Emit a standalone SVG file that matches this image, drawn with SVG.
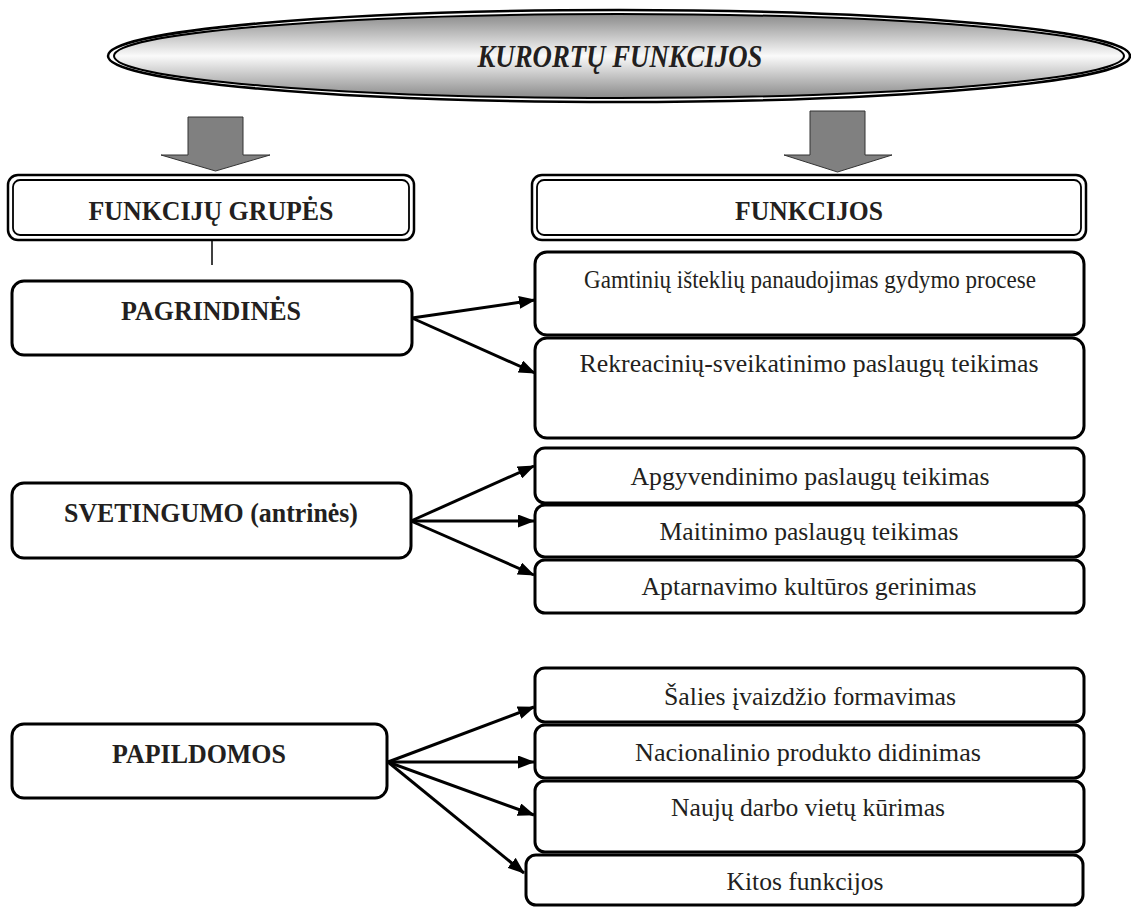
<svg xmlns="http://www.w3.org/2000/svg" width="1131" height="907" viewBox="0 0 1131 907">
<defs>
<linearGradient id="ellG" x1="0" y1="0" x2="0" y2="1">
<stop offset="0" stop-color="#8a8a8a"/>
<stop offset="0.5" stop-color="#fafafa"/>
<stop offset="1" stop-color="#8a8a8a"/>
</linearGradient>
<marker id="ah" markerUnits="userSpaceOnUse" markerWidth="17" markerHeight="13" refX="16" refY="6.5" orient="auto">
<path d="M0,0 L17,6.5 L0,13 z" fill="#000"/>
</marker>
<style>
.hdr-o{fill:#fff;stroke:#000;stroke-width:2.5}
.hdr-i{fill:none;stroke:#000;stroke-width:1.8}
.box{fill:#fff;stroke:#000;stroke-width:3}
.bold{font-family:"Liberation Serif","Times New Roman",serif;font-weight:bold;font-size:27px;fill:#231f20;text-anchor:middle}
.reg{font-family:"Liberation Serif","Times New Roman",serif;font-size:25.5px;fill:#231f20;text-anchor:middle}
.title{font-family:"Liberation Serif","Times New Roman",serif;font-style:italic;font-weight:bold;font-size:32px;fill:#231f20;text-anchor:middle}
.blk{fill:#808080;stroke:#333;stroke-width:1}
.con{fill:none;stroke:#000;stroke-width:3;marker-end:url(#ah)}
</style>
</defs>
<rect width="1131" height="907" fill="#fff"/>

<g id="title">
<ellipse cx="619" cy="56" rx="511" ry="46" fill="#fff" stroke="#000" stroke-width="2.5"/>
<ellipse cx="619" cy="56" rx="505" ry="42" fill="url(#ellG)" stroke="#000" stroke-width="2"/>
<text class="title" x="620" y="67" textLength="285" lengthAdjust="spacingAndGlyphs">KURORTŲ FUNKCIJOS</text>
</g>

<g id="arrow-left">
<path class="blk" d="M188,117 H243 V155 H270 L215.5,171 L161,155 H188 Z"/>
</g>
<g id="arrow-right">
<path class="blk" d="M810,111 H865 V155 H892 L837.5,172 L784,155 H810 Z"/>
</g>

<g id="hdr-groups">
<rect class="hdr-o" x="8" y="175" width="406" height="65" rx="10"/>
<rect class="hdr-i" x="13" y="180" width="396" height="55" rx="7"/>
<text class="bold" x="211" y="220" textLength="245" lengthAdjust="spacingAndGlyphs">FUNKCIJŲ GRUPĖS</text>
</g>
<g id="hdr-functions">
<rect class="hdr-o" x="532" y="175" width="554" height="65" rx="10"/>
<rect class="hdr-i" x="537" y="180" width="544" height="55" rx="7"/>
<text class="bold" x="809" y="220" textLength="148" lengthAdjust="spacingAndGlyphs">FUNKCIJOS</text>
</g>

<g id="pagrindines">
<rect class="box" x="12" y="281" width="400" height="74" rx="12"/>
<text class="bold" x="211" y="320" textLength="180" lengthAdjust="spacingAndGlyphs">PAGRINDINĖS</text>
</g>
<g id="svetingumo">
<rect class="box" x="12" y="483" width="399" height="75" rx="12"/>
<text class="bold" x="211" y="522" textLength="294" lengthAdjust="spacingAndGlyphs">SVETINGUMO (antrinės)</text>
</g>
<g id="papildomos">
<rect class="box" x="12" y="724" width="375" height="74" rx="12"/>
<text class="bold" x="199" y="763" textLength="174" lengthAdjust="spacingAndGlyphs">PAPILDOMOS</text>
</g>

<g id="f-gamtiniu">
<rect class="box" x="535" y="252" width="549" height="83" rx="12"/>
<text class="reg" x="810" y="288" font-size="23" textLength="452" lengthAdjust="spacingAndGlyphs">Gamtinių išteklių panaudojimas gydymo procese</text>
</g>
<g id="f-rekreaciniu">
<rect class="box" x="535" y="338" width="549" height="100" rx="12"/>
<text class="reg" x="809" y="372" textLength="459" lengthAdjust="spacingAndGlyphs">Rekreacinių-sveikatinimo paslaugų teikimas</text>
</g>
<g id="f-apgyvendinimo">
<rect class="box" x="535" y="448" width="549" height="55" rx="10"/>
<text class="reg" x="810" y="485" textLength="359" lengthAdjust="spacingAndGlyphs">Apgyvendinimo paslaugų teikimas</text>
</g>
<g id="f-maitinimo">
<rect class="box" x="535" y="505" width="549" height="52" rx="10"/>
<text class="reg" x="809" y="540" textLength="299" lengthAdjust="spacingAndGlyphs">Maitinimo paslaugų teikimas</text>
</g>
<g id="f-aptarnavimo">
<rect class="box" x="535" y="560" width="549" height="53" rx="10"/>
<text class="reg" x="809" y="595" textLength="335" lengthAdjust="spacingAndGlyphs">Aptarnavimo kultūros gerinimas</text>
</g>
<g id="f-salies">
<rect class="box" x="535" y="668" width="549" height="54" rx="10"/>
<text class="reg" x="810" y="705" textLength="292" lengthAdjust="spacingAndGlyphs">Šalies įvaizdžio formavimas</text>
</g>
<g id="f-nacionalinio">
<rect class="box" x="535" y="725" width="549" height="53" rx="10"/>
<text class="reg" x="808" y="761" textLength="346" lengthAdjust="spacingAndGlyphs">Nacionalinio produkto didinimas</text>
</g>
<g id="f-nauju">
<rect class="box" x="535" y="781" width="549" height="71" rx="10"/>
<text class="reg" x="808" y="816" textLength="274" lengthAdjust="spacingAndGlyphs">Naujų darbo vietų kūrimas</text>
</g>
<g id="f-kitos">
<rect class="box" x="526" y="855" width="557" height="50" rx="10"/>
<text class="reg" x="805" y="890" textLength="157" lengthAdjust="spacingAndGlyphs">Kitos funkcijos</text>
</g>

<g id="connectors">
<line x1="212" y1="240" x2="212" y2="265" stroke="#000" stroke-width="1.5"/>
<line class="con" x1="412" y1="318" x2="535" y2="300"/>
<line class="con" x1="412" y1="318" x2="535" y2="373"/>
<line class="con" x1="411" y1="521" x2="534" y2="466"/>
<line class="con" x1="411" y1="521" x2="534" y2="521"/>
<line class="con" x1="411" y1="521" x2="534" y2="575"/>
<line class="con" x1="388" y1="762" x2="534" y2="707"/>
<line class="con" x1="388" y1="762" x2="534" y2="762"/>
<line class="con" x1="388" y1="762" x2="534" y2="815"/>
<line class="con" x1="388" y1="762" x2="524" y2="873"/>
</g>
</svg>
